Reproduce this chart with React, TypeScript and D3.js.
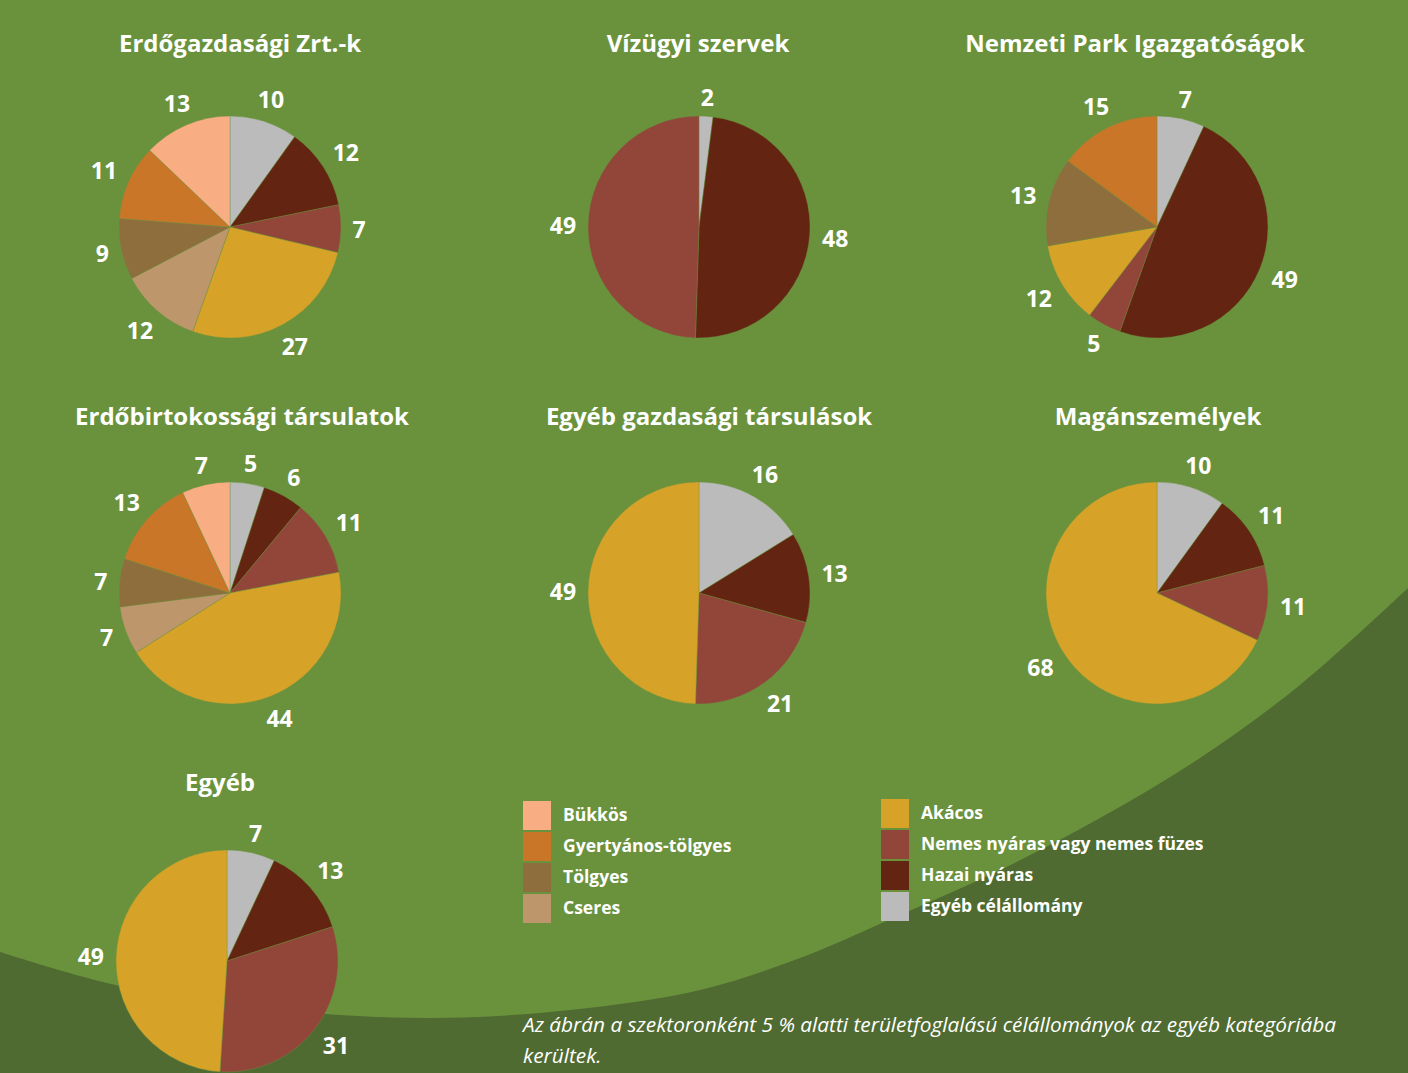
import React from 'react';
import * as d3 from 'd3';

// tree species groups, in the order the slices run clockwise from 12 o'clock
const CATEGORIES = [
  'Egyéb célállomány',
  'Hazai nyáras',
  'Nemes nyáras vagy nemes füzes',
  'Akácos',
  'Cseres',
  'Tölgyes',
  'Gyertyános-tölgyes',
  'Bükkös',
];
const COLORS = ['#bbbbbb', '#632511', '#92463a', '#d6a328', '#bd966b', '#8f6e3e', '#c97629', '#f9ad83'];

// share of each group in %, same order as CATEGORIES (0 = not shown)
const ERDOGAZDASAGI = [10, 12, 7, 27, 12, 9, 11, 13];
const VIZUGYI = [2, 48, 49, 0, 0, 0, 0, 0];
const NEMZETI_PARK = [7, 49, 5, 12, 0, 13, 15, 0];
const ERDOBIRTOKOSSAGI = [5, 6, 11, 44, 7, 7, 13, 7];
const EGYEB_GAZDASAGI = [16, 13, 21, 49, 0, 0, 0, 0];
const MAGANSZEMELYEK = [10, 11, 11, 68, 0, 0, 0, 0];
const EGYEB = [7, 13, 31, 49, 0, 0, 0, 0];

const SECTOR_TITLES = [
  'Erdőgazdasági Zrt.-k',
  'Vízügyi szervek',
  'Nemzeti Park Igazgatóságok',
  'Erdőbirtokossági társulatok',
  'Egyéb gazdasági társulások',
  'Magánszemélyek',
  'Egyéb',
];
const SECTOR_VALUES = [ERDOGAZDASAGI, VIZUGYI, NEMZETI_PARK, ERDOBIRTOKOSSAGI, EGYEB_GAZDASAGI, MAGANSZEMELYEK, EGYEB];

const LEGEND_LEFT = ['Bükkös', 'Gyertyános-tölgyes', 'Tölgyes', 'Cseres'];
const LEGEND_RIGHT = ['Akácos', 'Nemes nyáras vagy nemes füzes', 'Hazai nyáras', 'Egyéb célállomány'];

const NOTE_LINES = [
  'Az ábrán a szektoronként 5 % alatti területfoglalású célállományok az egyéb kategóriába',
  'kerültek.',
];

const W = 1408;
const H = 1073;
const R = 111;
const FONT = '"Open Sans", "Noto Sans", sans-serif';

// pie centre + title centre for each panel
const PANELS = [
  { cx: 230, cy: 227, tx: 240, ty: 52 },
  { cx: 699, cy: 227, tx: 698, ty: 52 },
  { cx: 1157, cy: 227, tx: 1135, ty: 52 },
  { cx: 230, cy: 593, tx: 242, ty: 425 },
  { cx: 699, cy: 593, tx: 709, ty: 425 },
  { cx: 1157, cy: 593, tx: 1158, ty: 425 },
  { cx: 227, cy: 961, tx: 220, ty: 791 },
];

// edge of the darker green swoosh at the bottom
const SWOOSH = [
  [0, 952], [120, 986], [280, 1010], [430, 1018], [570, 1010], [700, 990],
  [800, 958], [900, 915], [1000, 870], [1100, 818], [1200, 758], [1300, 685], [1408, 588],
];

const pie = d3.pie<number>().sort(null).value(d => d);
const arc = d3.arc<d3.PieArcDatum<number>>().innerRadius(0).outerRadius(R);

function PiePanel({ values, title, p }: { values: number[]; title: string; p: typeof PANELS[0] }) {
  const arcs = pie(values);
  return (
    <g>
      <text x={p.tx} y={p.ty} textAnchor="middle" fill="#fff" fontSize={24} fontWeight={700} fontFamily={FONT}>
        {title}
      </text>
      <g transform={`translate(${p.cx},${p.cy})`}>
        {arcs.map((a, i) =>
          a.value > 0 ? (
            <path key={i} d={arc(a) || ''} fill={COLORS[i]} stroke="#6a923d" strokeWidth={0.4} />
          ) : null
        )}
        {arcs.map((a, i) => {
          if (a.value <= 0) return null;
          const mid = (a.startAngle + a.endAngle) / 2;
          const sx = Math.sin(mid);
          const sy = -Math.cos(mid);
          const halfW = String(a.value).length * 7;
          const dist = R + 11 + Math.abs(sx) * halfW + Math.abs(sy) * 8;
          return (
            <text
              key={'l' + i}
              x={sx * dist}
              y={sy * dist}
              dy="0.38em"
              textAnchor="middle"
              fill="#fff"
              fontSize={23}
              fontWeight={700}
              fontFamily={FONT}
            >
              {a.value}
            </text>
          );
        })}
      </g>
    </g>
  );
}

export default function App() {
  React.useEffect(() => {
    document.body.style.margin = '0';
  }, []);

  const swooshLine = d3.line().curve(d3.curveCatmullRom)(SWOOSH as [number, number][]) || '';
  const swooshPath = `${swooshLine} L${W},${H} L0,${H} Z`;

  const legendRow = d3.scaleBand<number>().domain([0, 1, 2, 3]).range([0, 124]);

  return (
    <div style={{ position: 'absolute', left: 0, top: 0 }}>
      <svg width={W} height={H} style={{ display: 'block' }}>
        <rect width={W} height={H} fill="#6a923d" />
        <path d={swooshPath} fill="#4f6b31" />

        {SECTOR_VALUES.map((vals, i) => (
          <PiePanel key={i} values={vals} title={SECTOR_TITLES[i]} p={PANELS[i]} />
        ))}

        {[
          { items: LEGEND_LEFT, x: 523, y: 801 },
          { items: LEGEND_RIGHT, x: 881, y: 799 },
        ].map((col, c) => (
          <g key={c} transform={`translate(${col.x},${col.y})`}>
            {col.items.map((name, j) => (
              <g key={name} transform={`translate(0,${legendRow(j)})`}>
                <rect width={28} height={29} fill={COLORS[CATEGORIES.indexOf(name)]} />
                <text x={40} y={20} fill="#fff" fontSize={17.5} fontWeight={700} fontFamily={FONT}>
                  {name}
                </text>
              </g>
            ))}
          </g>
        ))}

        {NOTE_LINES.map((line, i) => (
          <text
            key={i}
            x={523}
            y={1032 + i * 31}
            fill="#fff"
            fontSize={20.8}
            fontStyle="italic"
            fontWeight={400}
            fontFamily={FONT}
          >
            {line}
          </text>
        ))}
      </svg>
    </div>
  );
}
